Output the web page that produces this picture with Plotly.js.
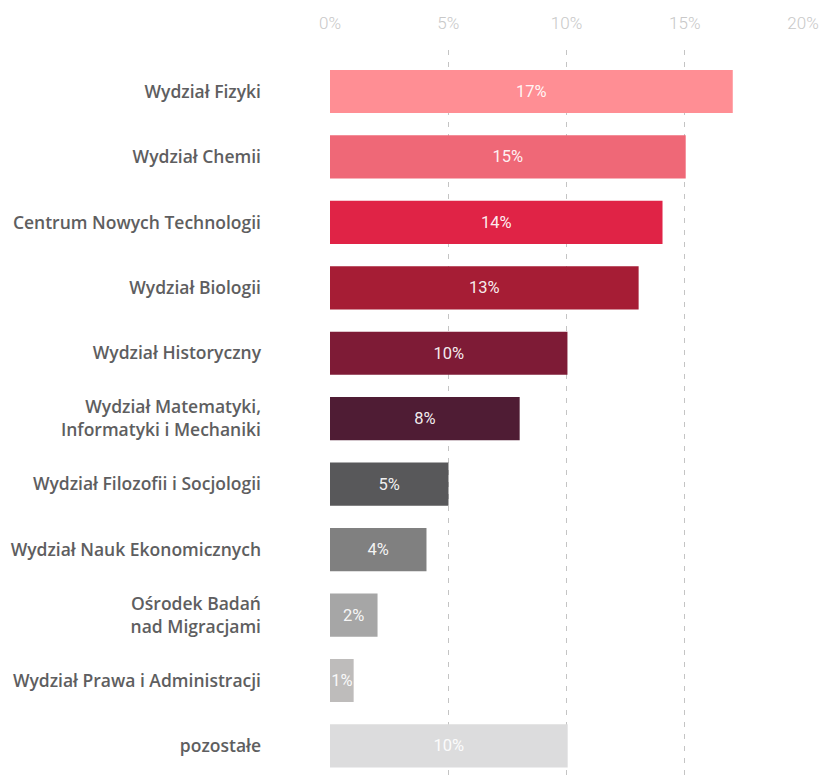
<!DOCTYPE html>
<html>
<head>
<meta charset="utf-8">
<script src="https://cdn.plot.ly/plotly-3.0.1.min.js"></script>
<style>html,body{margin:0;padding:0;background:#fff;}#chart{width:822px;height:778px;}</style>
</head>
<body>
<div id="chart"></div>
<script>
var categories = [
  "Wydział Fizyki",
  "Wydział Chemii",
  "Centrum Nowych Technologii",
  "Wydział Biologii",
  "Wydział Historyczny",
  "Wydział Matematyki,<br>Informatyki i Mechaniki",
  "Wydział Filozofii i Socjologii",
  "Wydział Nauk Ekonomicznych",
  "Ośrodek Badań<br>nad Migracjami",
  "Wydział Prawa i Administracji",
  "pozostałe"
];
var values = [17.03, 15.04, 14.06, 13.05, 10.04, 8.02, 5.01, 4.08, 2.01, 1.0, 10.05];
var labels = ["17%", "15%", "14%", "13%", "10%", "8%", "5%", "4%", "2%", "1%", "10%"];
var colors = ["#FF8E94", "#EF6877", "#E02346", "#A61D35", "#7E1B36", "#4F1C34", "#58585A", "#808080", "#A6A6A6", "#BEBCBB", "#DCDCDD"];
var tickVals = [0, 5, 10, 15, 20];
var tickText = ["0%", "5%", "10%", "15%", "20%"];

var trace = {
  type: "bar",
  orientation: "h",
  y: categories,
  x: values,
  text: labels,
  textposition: "inside",
  insidetextanchor: "middle",
  textangle: 0,
  constraintext: "none",
  cliponaxis: false,
  textfont: {family: "Roboto, sans-serif", size: 16.5, weight: 400, color: "rgba(255,255,255,0.93)"},
  marker: {color: colors, line: {width: 0}},
  hoverinfo: "none"
};

var layout = {
  width: 822,
  height: 778,
  margin: {l: 330, r: 19, t: 50, b: 0, pad: 0},
  paper_bgcolor: "#ffffff",
  plot_bgcolor: "#ffffff",
  showlegend: false,
  bargap: 0.34,
  xaxis: {
    side: "top",
    range: [0, 20],
    tickvals: tickVals,
    ticktext: tickText,
    showgrid: true,
    gridcolor: "#c4c4c4",
    griddash: "5px,7px",
    gridwidth: 1,
    zeroline: false,
    showline: false,
    ticks: "",
    ticklabelstandoff: 17,
    tickfont: {family: "Roboto, sans-serif", size: 17, weight: 300, color: "#c8c8c8"},
    fixedrange: true
  },
  yaxis: {
    type: "category",
    range: [10.49, -0.634],
    showgrid: false,
    zeroline: false,
    showline: false,
    ticks: "",
    ticklabelstandoff: 68,
    tickfont: {family: "Open Sans, sans-serif", size: 17.5, weight: 600, color: "#5e5e60"},
    fixedrange: true
  }
};

Plotly.newPlot("chart", [trace], layout, {displayModeBar: false, staticPlot: true});
</script>
</body>
</html>
